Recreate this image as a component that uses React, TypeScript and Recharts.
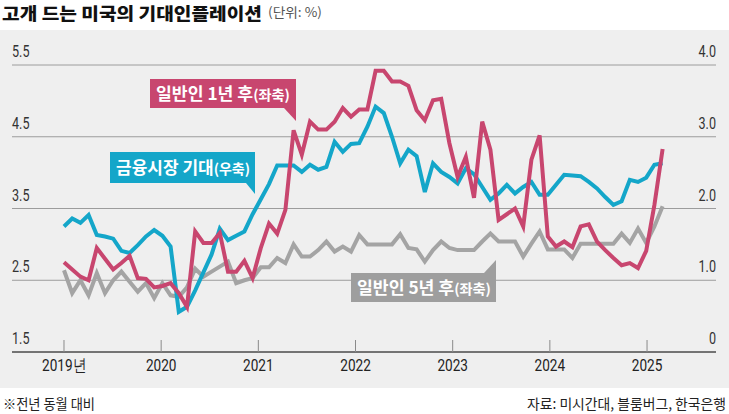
import React from 'react';
import { LineChart, Line, XAxis, YAxis, CartesianGrid } from 'recharts';

// Monthly, Jan 2019 – Feb 2025
const pinkOneYear = [
  2.75, 2.65, 2.55, 2.5, 2.95, 2.8, 2.65, 2.74, 2.84, 2.53, 2.52, 2.4,
  2.42, 2.46, 2.32, 2.13, 3.18, 3.02, 3.02, 3.16, 2.62, 2.62, 2.77, 2.53,
  2.95, 3.29, 3.15, 3.48, 4.59, 4.25, 4.71, 4.6, 4.6, 4.71, 4.9, 4.78,
  4.88, 4.88, 5.42, 5.42, 5.27, 5.27, 5.21, 4.87, 4.73, 5.01, 5.03, 4.41,
  3.94, 4.22, 3.65, 4.71, 4.32, 3.34, 3.42, 3.5, 3.25, 4.18, 4.52, 3.11,
  2.97, 3.04, 2.96, 3.25, 3.28, 3.04, 2.92, 2.81, 2.71, 2.74, 2.67, 2.91,
  3.55, 4.33,
];
const grayFiveYear = [
  2.64, 2.32, 2.5, 2.29, 2.6, 2.32, 2.5, 2.62, 2.48, 2.34, 2.46, 2.25,
  2.46, 2.29, 2.27, 2.4, 2.66, 2.55, 2.62, 2.69, 2.76, 2.46, 2.5, 2.53,
  2.68, 2.68, 2.81, 2.74, 3.0, 2.83, 2.83, 2.92, 3.04, 2.9, 2.97, 2.9,
  3.13, 3.0, 3.0, 3.0, 3.0, 3.14, 2.95, 2.93, 2.76, 2.92, 3.04, 2.95,
  2.92, 2.92, 2.92, 3.04, 3.15, 3.04, 3.04, 3.04, 2.83, 3.01, 3.18, 2.93,
  2.93, 2.93, 2.81, 3.01, 3.01, 3.01, 3.01, 3.01, 3.15, 3.02, 3.22, 3.02,
  3.25, 3.53,
];
const blueMarket = [
  1.75, 1.86, 1.8, 1.91, 1.63, 1.61, 1.58, 1.41, 1.38, 1.49, 1.61, 1.7,
  1.62, 1.47, 0.56, 0.63, 0.86, 1.11, 1.36, 1.72, 1.56, 1.62, 1.68, 1.92,
  2.13, 2.34, 2.6, 2.6, 2.6, 2.51, 2.61, 2.54, 2.58, 2.93, 2.79, 2.9,
  2.91, 3.14, 3.42, 3.33, 3.0, 2.63, 2.82, 2.73, 2.23, 2.63, 2.51, 2.44,
  2.35, 2.56, 2.48, 2.3, 2.12, 2.21, 2.33, 2.21, 2.3, 2.37, 2.19, 2.19,
  2.33, 2.47, 2.46, 2.45, 2.37, 2.28, 2.16, 2.05, 2.1, 2.4, 2.37, 2.43,
  2.61, 2.63,
];

const yearTicks = [0, 11.85, 23.7, 35.55, 47.4, 59.25, 71.1];
const yearLabels = ['2019년', '2020', '2021', '2022', '2023', '2024', '2025'];
const leftTicks = [1.5, 2.5, 3.5, 4.5, 5.5];
const rightTicks = [0, 1, 2, 3, 4];

const data = pinkOneYear.map((v, i) => ({
  i,
  pink: v,
  gray: grayFiveYear[i],
  blue: blueMarket[i],
}));

const PINK = '#c8466f';
const BLUE = '#14a6c9';
const GRAY = '#a4a4a4';
const FONT = "'Noto Sans CJK KR', 'Noto Sans', sans-serif";
const NUMFONT = "Roboto, 'Noto Sans', sans-serif";

const LeftTick = (props: any) => {
  const { x, y, payload } = props;
  return (
    <text
      transform={`translate(${x},${y - 8}) scale(0.74,1)`}
      textAnchor="start"
      fontSize={17}
      fill="#333"
      fontFamily={NUMFONT}
    >
      {Number(payload.value).toFixed(1)}
    </text>
  );
};

const RightTick = (props: any) => {
  const { x, y, payload } = props;
  const v = Number(payload.value);
  const label = v === 0 ? '0' : v.toFixed(1);
  return (
    <text
      transform={`translate(${x},${y - 8}) scale(0.74,1)`}
      textAnchor="end"
      fontSize={17}
      fill="#333"
      fontFamily={NUMFONT}
    >
      {label}
    </text>
  );
};

const XTick = (props: any) => {
  const { x, y, index } = props;
  return (
    <g>
      <line x1={x} x2={x} y1={y - 12} y2={y} stroke="#8a8a8a" strokeWidth={1} />
      <text
        transform={`translate(${x},${y + 19}) scale(0.8,1)`}
        textAnchor="middle"
        fontSize={17}
        fill="#222"
        fontFamily={NUMFONT}
      >
        {yearLabels[index]}
      </text>
    </g>
  );
};

export default function App() {
  return (
    <div
      style={{
        position: 'absolute',
        left: 0,
        top: 0,
        width: 729,
        height: 414,
        background: '#ffffff',
        overflow: 'hidden',
      }}
    >
      <div
        style={{
          position: 'absolute',
          left: 0,
          top: 30,
          width: 729,
          height: 358,
          background: '#efefef',
        }}
      />
      <div style={{ position: 'absolute', left: 0, top: 30 }}>
        <LineChart
          width={729}
          height={358}
          data={data}
          margin={{ top: 35, right: 12, bottom: 0, left: 11 }}
        >
          <CartesianGrid yAxisId="left" vertical={false} stroke="#9c9c9c" strokeWidth={1} />
          <XAxis
            dataKey="i"
            type="number"
            domain={[-6.34, 79.51]}
            allowDataOverflow
            ticks={yearTicks}
            interval={0}
            height={36}
            tickSize={0}
            tickMargin={0}
            tickLine={false}
            axisLine={{ stroke: '#222', strokeWidth: 1 }}
            tick={<XTick />}
          />
          <YAxis
            yAxisId="left"
            orientation="left"
            type="number"
            domain={[1.5, 5.5]}
            ticks={leftTicks}
            width={1}
            tickSize={0}
            tickMargin={0}
            axisLine={false}
            tickLine={false}
            tick={LeftTick}
            interval={0}
          />
          <YAxis
            yAxisId="right"
            orientation="right"
            type="number"
            domain={[0, 4]}
            ticks={rightTicks}
            width={1}
            tickSize={0}
            tickMargin={0}
            axisLine={false}
            tickLine={false}
            tick={RightTick}
            interval={0}
          />
          <Line
            yAxisId="left"
            dataKey="gray"
            stroke={GRAY}
            strokeWidth={4}
            dot={false}
            isAnimationActive={false}
          />
          <Line
            yAxisId="right"
            dataKey="blue"
            stroke={BLUE}
            strokeWidth={4}
            dot={false}
            isAnimationActive={false}
          />
          <Line
            yAxisId="left"
            dataKey="pink"
            stroke={PINK}
            strokeWidth={4}
            dot={false}
            isAnimationActive={false}
          />
        </LineChart>
      </div>
      <svg
        width={729}
        height={414}
        style={{ position: 'absolute', left: 0, top: 0, pointerEvents: 'none' }}
      >
        <text x={2} y={19.5} fontSize={17} fontWeight={900} fill="#111" fontFamily={FONT} textLength={260} lengthAdjust="spacingAndGlyphs">
          고개 드는 미국의 기대인플레이션
        </text>
        <text x={268} y={17} fontSize={13} fill="#555" fontFamily={FONT} textLength={54} lengthAdjust="spacingAndGlyphs">
          (단위: %)
        </text>

        <rect x={150} y={79} width={146} height={29} fill={PINK} />
        <polygon points="284,108 296,108 296,121" fill={PINK} />
        <text x={156} y={99.5} fill="#fff" fontFamily={FONT} fontWeight={700} textLength={134} lengthAdjust="spacingAndGlyphs">
          <tspan fontSize={17}>일반인 1년 후</tspan>
          <tspan fontSize={14}>(좌축)</tspan>
        </text>

        <rect x={110} y={152} width={145} height={31} fill={BLUE} />
        <polygon points="246,183 255,183 255,194" fill={BLUE} />
        <text x={116} y={173.5} fill="#fff" fontFamily={FONT} fontWeight={700} textLength={134} lengthAdjust="spacingAndGlyphs">
          <tspan fontSize={17}>금융시장 기대</tspan>
          <tspan fontSize={14}>(우축)</tspan>
        </text>

        <rect x={351} y={273} width={145} height={29} fill="#9e9e9e" />
        <polygon points="484,273 496,273 496,260" fill="#9e9e9e" />
        <text x={357} y={293.5} fill="#fff" fontFamily={FONT} fontWeight={700} textLength={134} lengthAdjust="spacingAndGlyphs">
          <tspan fontSize={17}>일반인 5년 후</tspan>
          <tspan fontSize={14}>(좌축)</tspan>
        </text>

        <text x={3} y={409} fontSize={14} fill="#222" fontFamily={FONT} textLength={92} lengthAdjust="spacingAndGlyphs">
          ※전년 동월 대비
        </text>
        <text x={527} y={409} fontSize={14} fill="#222" fontFamily={FONT} textLength={199} lengthAdjust="spacingAndGlyphs">
          자료: 미시간대, 블룸버그, 한국은행
        </text>
      </svg>
    </div>
  );
}
